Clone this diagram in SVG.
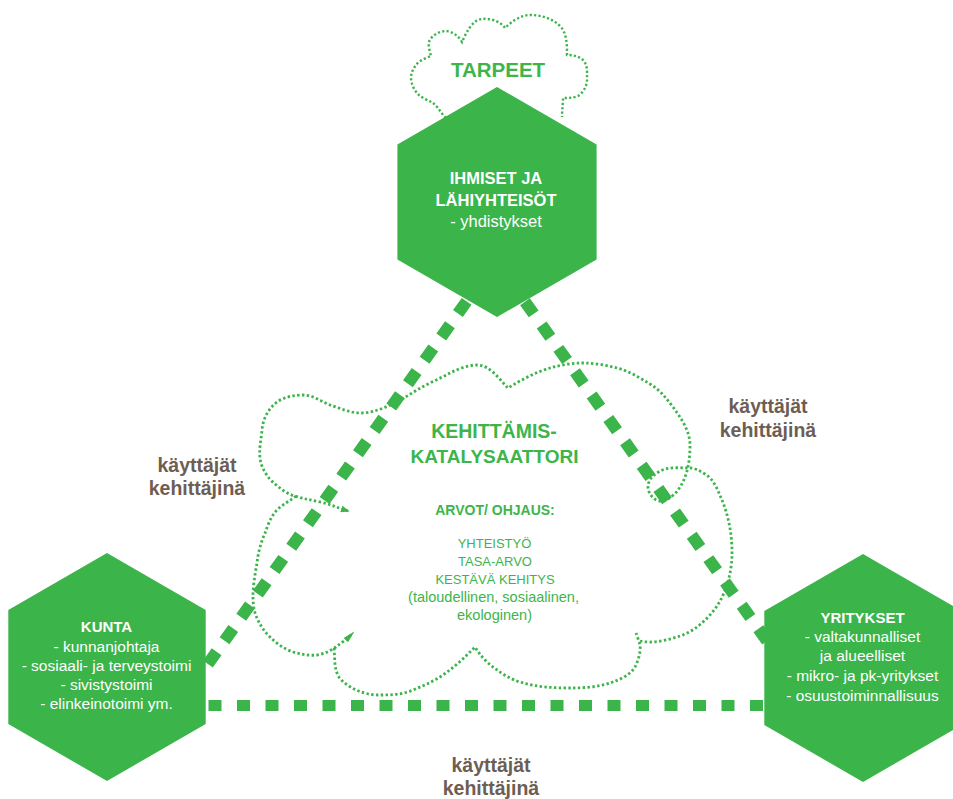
<svg xmlns="http://www.w3.org/2000/svg" width="953" height="799" viewBox="0 0 953 799">
  <style>
    .hex { fill: #3bb44a; }
    .dash { fill: none; stroke: #3bb44a; stroke-width: 12; stroke-dasharray: 15 13.7; }
    .hdash { fill: none; stroke: #3bb44a; stroke-width: 11; stroke-dasharray: 13 15.5; }
    .dots { fill: none; stroke: #3bb44a; stroke-width: 2.8; stroke-dasharray: 2.4 2.4; }
    .fine { fill: none; stroke: #3bb44a; stroke-width: 2.4; stroke-dasharray: 2.2 2.2; }
    text { font-family: "Liberation Sans", Arial, sans-serif; text-anchor: middle; }
    .w { fill: #ffffff; font-size: 15.5px; }
    .wb { fill: #ffffff; font-size: 15px; font-weight: bold; }
    .g { fill: #3db54a; }
    .lbl { fill: #6d5e55; font-size: 19.5px; font-weight: bold; }
  </style>
  <defs>
    <marker id="tip" viewBox="0 0 10 8" refX="8" refY="4" markerWidth="9" markerHeight="7" markerUnits="userSpaceOnUse" orient="auto">
      <path d="M0,0 L10,4 L0,8 z" fill="#3bb44a"/>
    </marker>
    <marker id="tipNarrow" viewBox="0 0 12 6" refX="10" refY="3" markerWidth="13" markerHeight="6" markerUnits="userSpaceOnUse" orient="auto">
      <path d="M0,0 L12,3 L0,6 z" fill="#3bb44a"/>
    </marker>
  </defs>

  <!-- dotted clouds -->
  <g id="clouds">
    <!-- needs cloud above the top node -->
    <path class="fine" d="M446,118 C441,113 438,107 433,103 C428,100 421,98 417,93 C413.5,89 411,83 411,78 C411,73 413,69 416,65 C419.4,60.4 426,58 431,56 C430,52 428,46 429,42 C431,36 439,31 446,31 C452,31 459,36.5 462,42 C466,33 472,20 482,19 C490,18 500,21 505,28 C511.5,21.5 521,15 530,15 C541,15 552.5,18.5 560,26 C567,33 567,45 567,55 C573,55 579,56 583,60 C588,65 587,73 587,80 C587,86 583,93 578,96 C573,98 568,98 563,98 C563,104 562,110 562,117"/>
    <!-- right lobe, top arc and upper-left loop -->
    <path class="dots" marker-end="url(#tip)" d="M640,641 C653,644 668,640 680,636 C695,631 708,619 717,606 C727,591 732,571 732,553 C732,535 729,517 722,500 C718,491 714,479 705,474 C700,471 695,468 690,468 C679,468 666,466 657,473 C652,476 648,481 648,487 C648,493 654,501 660,501 C668,501 676,494 680,487 C688,475 690,459 690,445 C690,431 681,418 673,407 C666,398 660,390 650,384 C640,378 629,371 617,368 C606,365 594,363 583,363 C572,363 560,365 550,368 C536,372 521,380 508,388 C499,379 490,365 477,365 C468,365 458,369 450,373 C439,379 427,384 417,390 C407,396 398,402 388,406 C379,410 370,413 360,413 C351,413 342,409 333,406 C323,403 314,395 303,395 C294,395 284,397 277,402 C268,409 263,419 262,430 C261,441 258,452 261,463 C263,471 269,479 275,484 C281,489 287,494 295,496 C304,499 311,500 320,502 C330,504 338,508 348,511"/>
    <!-- lower-left sweep -->
    <path class="dots" marker-end="url(#tipNarrow)" d="M296,496 C290,501 283,504 277,510 C271,516 268,525 265,533 C261,542 258,553 257,563 C255,574 253,586 253,597 C253,604 254,612 257,618 C260,625 264,631 270,637 C276,643 284,649 293,652 C301,654 309,656 317,655 C324,654 330,651 336,647 C341,643 347,639 353,633"/>
    <!-- bottom lobes -->
    <path class="dots" d="M334,648 C335,656 334,665 337,673 C339,680 346,684 352,688 C360,692 369,695 378,695 C390,695 402,695 413,690 C425,685 437,680 447,672 C457,665 466,656 475,647 C480,655 486,662 493,667 C501,673 510,679 520,682 C536,687 553,688 570,688 C584,688 600,687 613,682 C621,679 630,675 635,667 C638,661 641,652 640,645 C639,641 637,636 636,633"/>
  </g>

  <!-- dashed connectors -->
  <g id="connectors">
    <path class="dash" d="M483.3,278 L201.7,672.7"/>
    <path class="dash" d="M508.3,278.3 L767.5,641.5"/>
    <path class="hdash" d="M208.5,705.5 H764"/>
  </g>

  <g id="tarpeet">
    <text x="498" y="77" class="g" style="font-size:20.5px;font-weight:bold">TARPEET</text>
  </g>

  <g id="ihmiset">
    <polygon class="hex" points="497,87 596.6,144.5 596.6,259.5 497,317 397.4,259.5 397.4,144.5"/>
    <text x="496" y="184" fill="#fff" style="font-size:16.5px;font-weight:bold">IHMISET JA</text>
    <text x="496" y="206" fill="#fff" style="font-size:16.5px;font-weight:bold">LÄHIYHTEISÖT</text>
    <text x="496" y="227" fill="#fff" style="font-size:16.5px">- yhdistykset</text>
  </g>

  <g id="katalysaattori">
    <text x="494" y="438" class="g" style="font-size:19.5px;font-weight:bold">KEHITTÄMIS-</text>
    <text x="494.5" y="463" class="g" style="font-size:19px;font-weight:bold">KATALYSAATTORI</text>
    <text x="495" y="515" class="g" style="font-size:14px;font-weight:bold">ARVOT/ OHJAUS:</text>
    <text x="494.5" y="548" class="g" style="font-size:13px">YHTEISTYÖ</text>
    <text x="495" y="566" class="g" style="font-size:13px">TASA-ARVO</text>
    <text x="495" y="584" class="g" style="font-size:13px">KESTÄVÄ KEHITYS</text>
    <text x="493.5" y="602" class="g" style="font-size:14.5px">(taloudellinen, sosiaalinen,</text>
    <text x="494.5" y="620" class="g" style="font-size:14.5px">ekologinen)</text>
  </g>

  <g id="kunta">
    <polygon class="hex" points="107,553 205.7,610 205.7,724 107,781 8.3,724 8.3,610"/>
    <text x="106.5" y="632" class="wb">KUNTA</text>
    <text x="106.5" y="652" class="w">- kunnanjohtaja</text>
    <text x="106.5" y="671" class="w">- sosiaali- ja terveystoimi</text>
    <text x="106.5" y="690" class="w">- sivistystoimi</text>
    <text x="106.5" y="709" class="w">- elinkeinotoimi ym.</text>
  </g>

  <g id="yritykset">
    <polygon class="hex" points="863,554 961.7,611 961.7,725 863,782 764.3,725 764.3,611"/>
    <text x="862.5" y="623" class="wb">YRITYKSET</text>
    <text x="862.5" y="642" class="w">- valtakunnalliset</text>
    <text x="862.5" y="661" class="w">ja alueelliset</text>
    <text x="862.5" y="681" class="w">- mikro- ja pk-yritykset</text>
    <text x="862.5" y="701" class="w">- osuustoiminnallisuus</text>
  </g>

  <g id="label-right">
    <text x="768" y="413" class="lbl">käyttäjät</text>
    <text x="768" y="437" class="lbl">kehittäjinä</text>
  </g>
  <g id="label-left">
    <text x="197" y="472" class="lbl">käyttäjät</text>
    <text x="197" y="495" class="lbl">kehittäjinä</text>
  </g>
  <g id="label-bottom">
    <text x="491" y="772" class="lbl">käyttäjät</text>
    <text x="491" y="795" class="lbl">kehittäjinä</text>
  </g>
</svg>
